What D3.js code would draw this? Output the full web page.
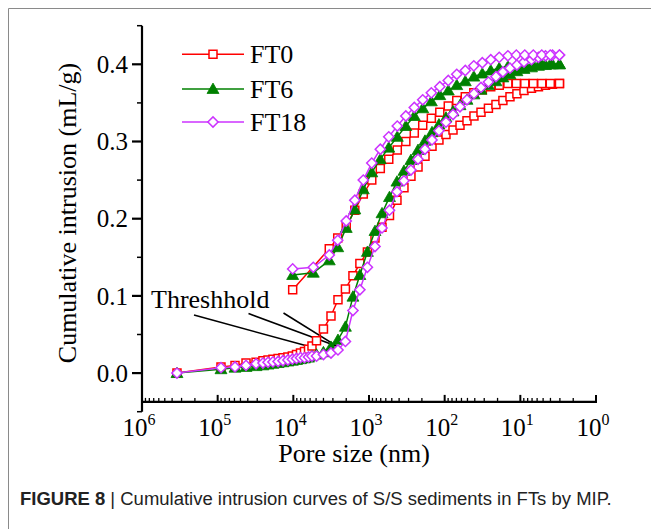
<!DOCTYPE html>
<html>
<head>
<meta charset="utf-8">
<script src="https://cdn.jsdelivr.net/npm/d3@7"></script>
<style>
  html, body { margin: 0; padding: 0; background: #fff; }
  svg { display: block; }
</style>
</head>
<body>
<svg id="chart" width="651" height="529"></svg>
<script>
// ---------------- DATA ----------------
const seriesNames = ["FT0", "FT6", "FT18"];
const xTickExponents = [6, 5, 4, 3, 2, 1, 0];
const yTickLabels = ["0.0", "0.1", "0.2", "0.3", "0.4"];

// Intrusion (pressurising) pore sizes, nm
const intrusionPore = [345000, 90400, 59000, 42200, 31100, 25200, 21600, 18600, 15900, 13700,
  11800, 10300, 9080, 8040, 7120, 6300, 5670, 4940, 4000, 3180,
  2570, 2050, 1630, 1320, 1050, 833, 673, 536, 427, 345,
  279, 225, 182, 147, 119, 96.1, 77.6, 62.7, 50.7, 41.0,
  33.1, 26.4, 21.0, 17.0, 13.7, 11.1, 8.95, 7.12, 5.76, 4.65,
  3.76, 3.04];
const ft0Intrusion = [0.000, 0.008, 0.010, 0.013, 0.014, 0.016, 0.017, 0.018, 0.019, 0.020,
  0.021, 0.022, 0.024, 0.026, 0.028, 0.031, 0.035, 0.042, 0.057, 0.074,
  0.095, 0.109, 0.126, 0.142, 0.157, 0.175, 0.189, 0.204, 0.224, 0.240,
  0.255, 0.267, 0.281, 0.294, 0.302, 0.309, 0.315, 0.321, 0.327, 0.333,
  0.338, 0.343, 0.348, 0.353, 0.358, 0.362, 0.366, 0.369, 0.371, 0.373,
  0.374, 0.375];
const ft6Intrusion = [0.000, 0.005, 0.007, 0.008, 0.009, 0.010, 0.011, 0.012, 0.013, 0.014,
  0.015, 0.016, 0.017, 0.018, 0.019, 0.020, 0.022, 0.024, 0.027, 0.034,
  0.043, 0.060, 0.099, 0.127, 0.157, 0.184, 0.207, 0.228, 0.248, 0.262,
  0.276, 0.289, 0.301, 0.312, 0.322, 0.331, 0.339, 0.347, 0.354, 0.361,
  0.367, 0.373, 0.378, 0.383, 0.387, 0.391, 0.394, 0.396, 0.398, 0.399,
  0.400, 0.400];
const ft18Intrusion = [0.000, 0.007, 0.008, 0.010, 0.012, 0.013, 0.014, 0.0145, 0.015, 0.016,
  0.017, 0.018, 0.019, 0.020, 0.020, 0.021, 0.022, 0.022, 0.024, 0.026,
  0.030, 0.041, 0.081, 0.108, 0.137, 0.164, 0.188, 0.211, 0.235, 0.249,
  0.263, 0.277, 0.290, 0.302, 0.314, 0.325, 0.335, 0.345, 0.354, 0.362,
  0.370, 0.377, 0.384, 0.390, 0.395, 0.399, 0.403, 0.406, 0.409, 0.411,
  0.412, 0.412];

// Extrusion (depressurising) pore sizes, nm
const extrusionPore = [10200, 5450, 3350, 2590, 2000, 1540, 1190, 919, 709, 548,
  423, 326, 252, 195, 150, 116, 89.6, 69.2, 53.4, 41.2,
  31.8, 24.6, 19.0, 14.6, 11.3, 8.73, 6.74, 5.21, 4.02, 3.04];
const ft0Extrusion = [0.108, null, 0.161, 0.175, 0.190, 0.211, 0.232, 0.250, 0.265, 0.277,
  0.289, 0.300, 0.311, 0.321, 0.330, 0.338, 0.346, 0.353, 0.358, 0.363,
  0.367, 0.371, 0.373, 0.375, 0.375, 0.375, 0.375, 0.375, 0.375, 0.375];
const ft6Extrusion = [0.127, 0.130, 0.146, 0.163, 0.188, 0.212, 0.238, 0.260, 0.277, 0.292,
  0.306, 0.320, 0.333, 0.343, 0.352, 0.360, 0.366, 0.373, 0.378, 0.384,
  0.388, 0.392, 0.395, 0.397, 0.398, 0.399, 0.399, 0.400, 0.400, 0.400];
const ft18Extrusion = [0.135, 0.137, 0.153, 0.172, 0.197, 0.224, 0.250, 0.272, 0.290, 0.306,
  0.320, 0.333, 0.344, 0.354, 0.363, 0.371, 0.379, 0.387, 0.392, 0.398,
  0.402, 0.406, 0.409, 0.411, 0.412, 0.412, 0.412, 0.412, 0.412, 0.412];

// Threshold points (FT0, FT6, FT18)
const thresholdPore = [6000, 2700, 2300];
const thresholdValue = [0.034, 0.035, 0.031];

const colors = ["#ff0000", "#008000", "#cc33ff"];

// ---------------- DRAW ----------------
const svg = d3.select("#chart");
const serif = "'Liberation Serif', 'Times New Roman', serif";

// figure frame
svg.append("line").attr("x1", 8.5).attr("y1", 8.5).attr("x2", 651).attr("y2", 8.5)
  .attr("stroke", "#8a8a8a").attr("stroke-width", 1);
svg.append("line").attr("x1", 8.5).attr("y1", 8.5).attr("x2", 8.5).attr("y2", 529)
  .attr("stroke", "#8a8a8a").attr("stroke-width", 1);

const x = d3.scaleLog().domain([1e6, 1]).range([142, 596]);
const y = d3.scaleLinear().domain([-0.05, 0.45]).range([411.7, 25.7]);
const xAxisY = y(-0.0373);

// Y axis
const yAxis = svg.append("g").attr("transform", "translate(142,0)");
yAxis.append("line").attr("x1", 0).attr("x2", 0).attr("y1", y(0.45)).attr("y2", y(-0.05))
  .attr("stroke", "#000").attr("stroke-width", 2.2);
const yMajor = d3.range(0, 5).map(i => i / 10);
const yMinor = d3.range(-1, 10, 2).map(i => i / 20);
yAxis.selectAll(".ymaj").data(yMajor).join("line")
  .attr("x1", -10).attr("x2", 0).attr("y1", d => y(d)).attr("y2", d => y(d))
  .attr("stroke", "#000").attr("stroke-width", 2.2);
yAxis.selectAll(".ymin").data(yMinor).join("line")
  .attr("x1", -5).attr("x2", 0).attr("y1", d => y(d)).attr("y2", d => y(d))
  .attr("stroke", "#000").attr("stroke-width", 1.5);
yAxis.selectAll(".ylab").data(yMajor).join("text")
  .attr("x", -14).attr("y", d => y(d)).attr("dy", "0.35em")
  .attr("text-anchor", "end").attr("font-family", serif).attr("font-size", 25)
  .text((d, i) => yTickLabels[i]);

// X axis
const xAxis = svg.append("g");
xAxis.append("line").attr("x1", 142).attr("x2", 597).attr("y1", xAxisY).attr("y2", xAxisY)
  .attr("stroke", "#000").attr("stroke-width", 2.4);
const xMajor = xTickExponents.map(e => Math.pow(10, e));
const xMinor = [];
for (let e = 0; e < 6; e++) for (let k = 2; k <= 9; k++) xMinor.push(k * Math.pow(10, e));
xAxis.selectAll(".xmaj").data(xMajor).join("line")
  .attr("x1", d => x(d)).attr("x2", d => x(d)).attr("y1", xAxisY).attr("y2", xAxisY - 7)
  .attr("stroke", "#000").attr("stroke-width", 2);
xAxis.selectAll(".xmin").data(xMinor).join("line")
  .attr("x1", d => x(d)).attr("x2", d => x(d)).attr("y1", xAxisY).attr("y2", xAxisY - 4)
  .attr("stroke", "#000").attr("stroke-width", 1.3);
const xl = xAxis.selectAll(".xlab").data(xTickExponents).join("text")
  .attr("x", d => x(Math.pow(10, d)) - 3).attr("y", xAxisY + 34)
  .attr("text-anchor", "middle").attr("font-family", serif).attr("font-size", 25);
xl.append("tspan").text("10");
xl.append("tspan").attr("dy", -11).attr("font-size", 16).text(d => d);

// Axis titles
svg.append("text").attr("x", 354).attr("y", 462).attr("text-anchor", "middle")
  .attr("font-family", serif).attr("font-size", 26).text("Pore size (nm)");
svg.append("text").attr("transform", "translate(76,213) rotate(-90)").attr("text-anchor", "middle")
  .attr("font-family", serif).attr("font-size", 26).text("Cumulative intrusion (mL/g)");

// Symbols
const symSquare = d3.symbol().type(d3.symbolSquare).size(64);
const symTri = d3.symbol().type(d3.symbolTriangle).size(62);
const symDiamond = d3.symbol().type(d3.symbolSquare).size(52);
function drawMarker(g, cx, cy, i) {
  if (i === 0) {
    g.append("path").attr("d", symSquare()).attr("transform", `translate(${cx},${cy})`)
      .attr("fill", "#fff").attr("stroke", colors[0]).attr("stroke-width", 1.5);
  } else if (i === 1) {
    g.append("path").attr("d", symTri()).attr("transform", `translate(${cx},${cy + 1})`)
      .attr("fill", colors[1]).attr("stroke", colors[1]).attr("stroke-width", 0.8);
  } else {
    g.append("path").attr("d", symDiamond()).attr("transform", `translate(${cx},${cy}) rotate(45)`)
      .attr("fill", "#fff").attr("stroke", colors[2]).attr("stroke-width", 1.5);
  }
}

const intrusions = [ft0Intrusion, ft6Intrusion, ft18Intrusion];
const extrusions = [ft0Extrusion, ft6Extrusion, ft18Extrusion];
const line = d3.line().x(d => x(d[0])).y(d => y(d[1]));

// Threshold annotation
svg.append("text").attr("x", 151).attr("y", 308).attr("font-family", serif).attr("font-size", 26)
  .text("Threshhold");
const arrowStarts = [[194, 315], [248.5, 313.5], [283.5, 313]];
arrowStarts.forEach((s, i) => {
  svg.append("line").attr("x1", s[0]).attr("y1", s[1])
    .attr("x2", x(thresholdPore[i])).attr("y2", y(thresholdValue[i]))
    .attr("stroke", "#000").attr("stroke-width", 1.6);
});

seriesNames.forEach((name, i) => {
  const g = svg.append("g");
  const intr = intrusionPore.map((p, k) => [p, intrusions[i][k]]).filter(d => d[1] != null);
  const extr = extrusionPore.map((p, k) => [p, extrusions[i][k]]).filter(d => d[1] != null);
  [intr, extr].forEach(arr => {
    g.append("path").attr("d", line(arr)).attr("fill", "none")
      .attr("stroke", colors[i]).attr("stroke-width", 1.5);
  });
  [intr, extr].forEach(arr => arr.forEach(d => drawMarker(g, x(d[0]), y(d[1]), i)));
});

// Legend
const legendY = [54.3, 89, 122];
seriesNames.forEach((name, i) => {
  const g = svg.append("g");
  g.append("line").attr("x1", 182).attr("x2", 244).attr("y1", legendY[i]).attr("y2", legendY[i])
    .attr("stroke", colors[i]).attr("stroke-width", 1.5);
  drawMarker(g, 213, legendY[i], i);
  g.append("text").attr("x", 250).attr("y", legendY[i] + 9).attr("font-family", serif)
    .attr("font-size", 26).text(name);
});

// Caption: one text element, horizontally condensed to the reference width
const cap = svg.append("text")
  .attr("font-family", "'Liberation Sans', Arial, sans-serif")
  .attr("font-size", 19).attr("fill", "#222");
cap.append("tspan").attr("font-weight", "bold").text("FIGURE 8");
cap.append("tspan").text(" | Cumulative intrusion curves of S/S sediments in FTs by MIP.");
const capW = cap.node().getComputedTextLength();
cap.attr("transform", `translate(20,505) scale(${592 / capW},1)`);
</script>
</body>
</html>
